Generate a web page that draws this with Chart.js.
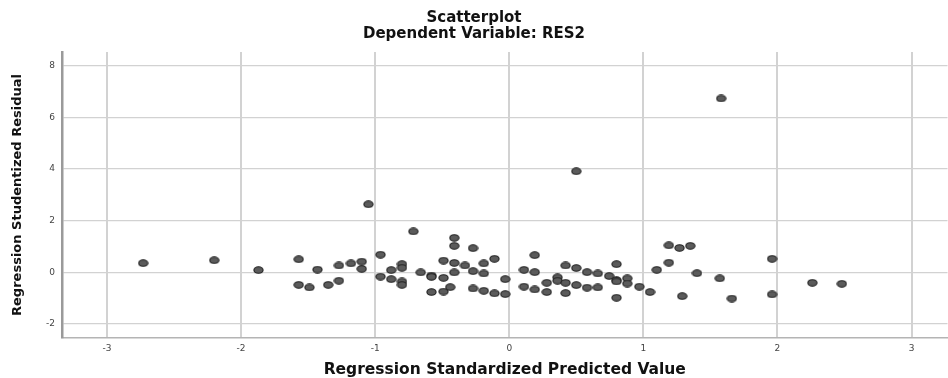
<!DOCTYPE html>
<html>
<head>
<meta charset="utf-8">
<script src="https://cdn.jsdelivr.net/npm/chart.js@4.4.1/dist/chart.umd.min.js"></script>
<style>
  html, body { margin: 0; padding: 0; background: #fff; }
  canvas { display: block; }
</style>
</head>
<body>
<canvas id="myChart" width="948" height="378"></canvas>
<script>
const predicted = [
  -2.73, -2.20, -1.87, -1.57, -1.57, -1.49, -1.43, -1.35, -1.27, -1.27,
  -1.18, -1.10, -1.10, -1.05, -0.96, -0.96, -0.88, -0.88, -0.80, -0.80,
  -0.80, -0.80, -0.715, -0.66, -0.58, -0.58, -0.58, -0.49, -0.49, -0.49,
  -0.44, -0.41, -0.41, -0.41, -0.41, -0.33, -0.27, -0.27, -0.27, -0.19,
  -0.19, -0.19, -0.11, -0.11, -0.03, -0.03, 0.11, 0.11, 0.19, 0.19,
  0.19, 0.28, 0.28, 0.36, 0.36, 0.42, 0.42, 0.42, 0.50, 0.50,
  0.50, 0.58, 0.58, 0.66, 0.66, 0.745, 0.80, 0.80, 0.80, 0.80,
  0.88, 0.88, 0.97, 1.05, 1.10, 1.19, 1.19, 1.27, 1.29, 1.35,
  1.40, 1.57, 1.58, 1.66, 1.96, 1.96, 2.26, 2.48
];
const residual = [
  0.35, 0.46, 0.08, 0.50, -0.49, -0.59, 0.10, -0.49, 0.26, -0.33,
  0.34, 0.41, 0.13, 2.63, 0.68, -0.17, 0.08, -0.27, 0.31, 0.17,
  -0.36, -0.49, 1.58, -0.01, -0.13, -0.18, -0.77, 0.45, -0.22, -0.75,
  -0.58, 1.33, 1.02, 0.36, -0.01, 0.26, 0.93, 0.04, -0.63, 0.34,
  -0.05, -0.72, 0.52, -0.82, -0.27, -0.85, 0.09, -0.56, 0.66, 0.00,
  -0.67, -0.41, -0.77, -0.20, -0.33, 0.26, -0.41, -0.81, 3.91, 0.16,
  -0.50, 0.00, -0.60, -0.05, -0.59, -0.15, 0.31, -0.31, -0.36, -0.99,
  -0.24, -0.44, -0.56, -0.77, 0.09, 1.04, 0.37, 0.94, -0.93, 1.02,
  -0.04, -0.24, 6.73, -1.02, 0.52, -0.86, -0.41, -0.45
];
const xTicks = [-3, -2, -1, 0, 1, 2, 3];
const yTicks = [-2, 0, 2, 4, 6, 8];

// oval marker like the SPSS one
const dot = document.createElement('canvas');
dot.width = 11;
dot.height = 8;
const dctx = dot.getContext('2d');
dctx.beginPath();
dctx.ellipse(5.5, 4, 4.6, 3.2, 0, 0, Math.PI * 2);
dctx.fillStyle = '#5b5b5b';
dctx.fill();
dctx.lineWidth = 1.1;
dctx.strokeStyle = '#1f1f1f';
dctx.stroke();

const points = predicted.map((x, i) => ({ x: x, y: residual[i] }));

const ctx = document.getElementById('myChart').getContext('2d');
new Chart(ctx, {
  type: 'scatter',
  data: {
    datasets: [{
      data: points,
      pointStyle: dot,
      // the image sets the drawn size; tiny radius keeps the layout from reserving overflow space
      pointRadius: 0.5,
      pointBorderWidth: 0,
      pointHoverRadius: 0.5
    }]
  },
  options: {
    responsive: false,
    animation: false,
    layout: { padding: 0 },
    plugins: {
      legend: { display: false },
      tooltip: { enabled: false },
      title: {
        display: true,
        text: 'Scatterplot',
        color: '#111',
        font: { family: 'DejaVu Sans', size: 15, weight: 'bold', lineHeight: 1 },
        padding: { top: 11, bottom: 0 }
      },
      subtitle: {
        display: true,
        text: 'Dependent Variable: RES2',
        color: '#111',
        font: { family: 'DejaVu Sans', size: 15, weight: 'bold', lineHeight: 1 },
        padding: { top: 1, bottom: 10 }
      }
    },
    scales: {
      x: {
        type: 'linear',
        min: -3.335,
        max: 3.268,
        afterBuildTicks: s => { s.ticks = xTicks.map(v => ({ value: v })); },
        afterFit: s => {
          s.height = 40;
          s.paddingLeft = 0;
          s.paddingRight = 0;
        },
        grid: { color: '#d2d2d2', lineWidth: 2, drawTicks: false },
        border: { color: '#b4b4b4', width: 1.5 },
        ticks: {
          color: '#444',
          padding: 5,
          font: { family: 'DejaVu Sans', size: 9 }
        },
        title: {
          display: true,
          text: 'Regression Standardized Predicted Value',
          color: '#111',
          font: { family: 'DejaVu Sans', size: 15.5, weight: 'bold', lineHeight: 1 },
          padding: { top: 0, bottom: 0 }
        }
      },
      y: {
        type: 'linear',
        min: -2.55,
        max: 8.53,
        afterBuildTicks: s => { s.ticks = yTicks.map(v => ({ value: v })); },
        afterFit: s => { s.width = 62; },
        grid: { color: '#d2d2d2', lineWidth: 1.2, drawTicks: false },
        border: { color: '#9a9a9a', width: 2.5 },
        ticks: {
          color: '#444',
          padding: 7,
          font: { family: 'DejaVu Sans', size: 9 }
        },
        title: {
          display: true,
          text: 'Regression Studentized Residual',
          color: '#111',
          font: { family: 'DejaVu Sans', size: 13, weight: 'bold', lineHeight: 1 },
          padding: { top: 11.5, bottom: 0 }
        }
      }
    }
  }
});
</script>
</body>
</html>
